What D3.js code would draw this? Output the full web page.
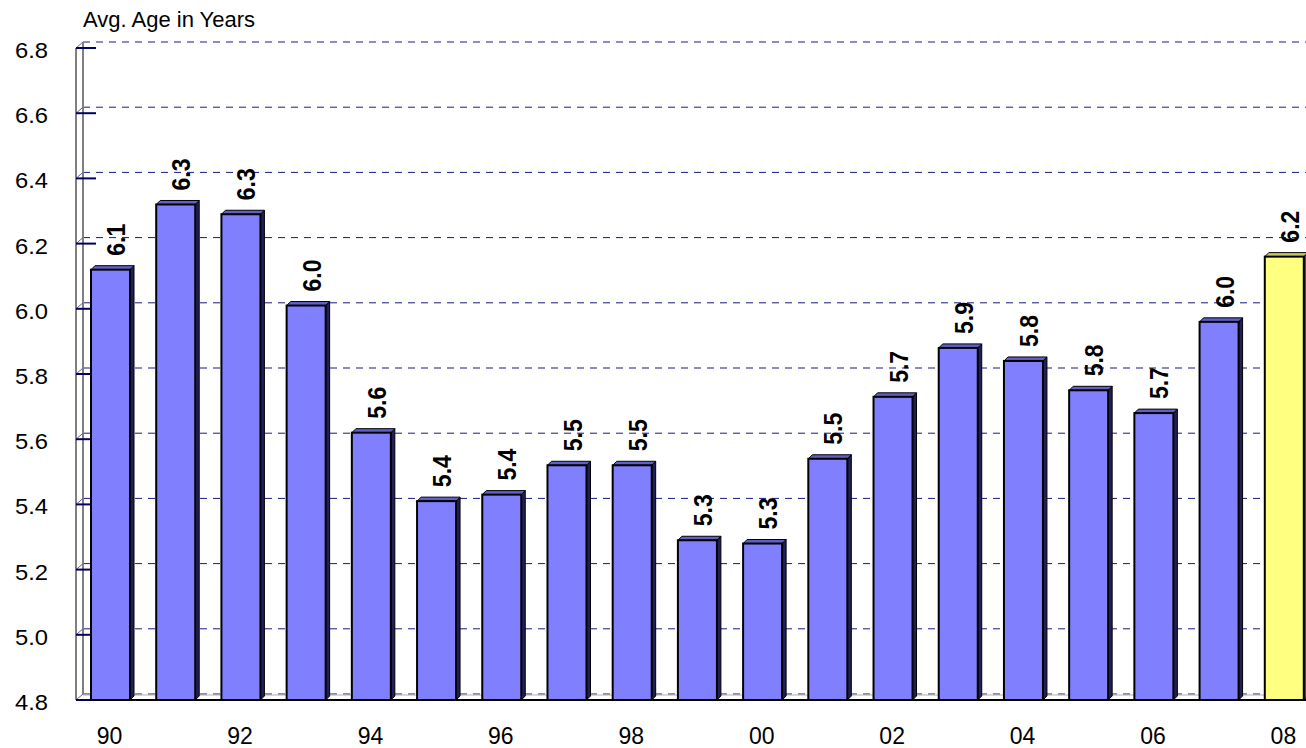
<!DOCTYPE html>
<html>
<head>
<meta charset="utf-8">
<script src="https://cdn.jsdelivr.net/npm/d3@7"></script>
<style>
  body { margin: 0; background: #fff; }
  text { font-family: "Liberation Sans", Arial, sans-serif; }
</style>
</head>
<body>
<div id="chart"></div>
<script>
// data
var years = [1990, 1991, 1992, 1993, 1994, 1995, 1996, 1997, 1998, 1999,
             2000, 2001, 2002, 2003, 2004, 2005, 2006, 2007, 2008];
var avgAge = [6.12, 6.32, 6.29, 6.01, 5.62, 5.41, 5.43, 5.52, 5.52, 5.29,
              5.28, 5.54, 5.73, 5.88, 5.84, 5.75, 5.68, 5.96, 6.16];
var yTicks = [4.8, 5.0, 5.2, 5.4, 5.6, 5.8, 6.0, 6.2, 6.4, 6.6, 6.8];
var xTickYears = [1990, 1992, 1994, 1996, 1998, 2000, 2002, 2004, 2006, 2008];
var highlightYear = 2008;

var W = 1306, H = 748;
var depthX = 7, depthY = 6;   // wall / floor depth offset
var barDepth = 4;             // bar side and top offset

var svg = d3.select('#chart').append('svg')
    .attr('width', W)
    .attr('height', H);

var y = d3.scaleLinear().domain([4.8, 6.8]).range([700, 48]);
var x = d3.scaleBand().domain(years).range([78, 1317]).padding(0);

// title on top of the value axis
svg.append('text')
    .attr('transform', 'translate(83,27)')
    .style('font-size', '22px')
    .text('Avg. Age in Years');

// back wall gridlines (dashed), shifted up for the depth
svg.selectAll('.grid').data(yTicks).enter().append('line')
    .attr('class', 'grid')
    .attr('x1', 76 + depthX).attr('x2', W)
    .attr('y1', function(d) { return y(d) - depthY; })
    .attr('y2', function(d) { return y(d) - depthY; })
    .attr('stroke', '#000070')
    .attr('stroke-opacity', 0.9)
    .attr('stroke-dasharray', '7,6');

// floor
svg.append('line')
    .attr('x1', 76 + depthX).attr('x2', W)
    .attr('y1', y(4.8) - depthY + 1).attr('y2', y(4.8) - depthY + 1)
    .attr('stroke', '#b0b0b0');
svg.append('line')
    .attr('x1', 76).attr('x2', W)
    .attr('y1', y(4.8)).attr('y2', y(4.8))
    .attr('stroke', '#000').attr('stroke-width', 2);

// left wall: front edge black, back edge grey
svg.append('line')
    .attr('x1', 76 + depthX).attr('x2', 76 + depthX)
    .attr('y1', y(6.8) - depthY).attr('y2', y(4.8) - depthY)
    .attr('stroke', '#808080').attr('stroke-width', 2);
svg.append('line')
    .attr('x1', 76).attr('x2', 76)
    .attr('y1', y(6.8)).attr('y2', y(4.8))
    .attr('stroke', '#000').attr('stroke-width', 1);

// small diagonals on the wall at each tick
svg.selectAll('.diag').data(yTicks).enter().append('line')
    .attr('class', 'diag')
    .attr('x1', 76).attr('x2', 76 + depthX)
    .attr('y1', function(d) { return y(d); })
    .attr('y2', function(d) { return y(d) - depthY; })
    .attr('stroke', '#6060a0').attr('stroke-width', 1);

// tick marks
svg.selectAll('.tick').data(yTicks).enter().append('line')
    .attr('class', 'tick')
    .attr('x1', 76).attr('x2', 96)
    .attr('y1', function(d) { return y(d); })
    .attr('y2', function(d) { return y(d); })
    .attr('stroke', '#000060').attr('stroke-width', 2);

// tick labels
svg.selectAll('.ylab').data(yTicks).enter().append('text')
    .attr('class', 'ylab')
    .attr('transform', function(d) { return 'translate(48,' + (y(d) + 10) + ') scale(1.08,1)'; })
    .attr('text-anchor', 'end')
    .style('font-size', '22px')
    .text(d3.format('.1f'));

svg.selectAll('.xlab').data(xTickYears).enter().append('text')
    .attr('class', 'xlab')
    .attr('transform', function(d) { return 'translate(' + (x(d) + x.bandwidth() / 2 - 1) + ',744)'; })
    .attr('text-anchor', 'middle')
    .style('font-size', '23px')
    .text(function(d) { return String(d).slice(2); });

// bars
var barOff = 13, barW = 39;
var data = years.map(function(yr, i) { return { year: yr, value: avgAge[i] }; });

var bars = svg.selectAll('.bar').data(data).enter().append('g')
    .attr('class', 'bar');

function colors(d) {
  if (d.year === highlightYear) return { front: '#ffff80', top: '#c8c860', side: '#505018' };
  return { front: '#8080ff', top: '#6060c8', side: '#202058' };
}

// side face
bars.append('path')
    .attr('d', function(d) {
      var x1 = x(d.year) + barOff + barW, yt = y(d.value), yb = y(4.8);
      return 'M' + x1 + ',' + yt + 'L' + (x1 + barDepth) + ',' + (yt - barDepth) +
             'L' + (x1 + barDepth) + ',' + (yb - barDepth) + 'L' + x1 + ',' + yb + 'Z';
    })
    .attr('fill', function(d) { return colors(d).side; })
    .attr('stroke', '#000').attr('stroke-width', 1);

// top face
bars.append('path')
    .attr('d', function(d) {
      var x0 = x(d.year) + barOff, yt = y(d.value);
      return 'M' + x0 + ',' + yt + 'L' + (x0 + barDepth) + ',' + (yt - barDepth) +
             'L' + (x0 + barW + barDepth) + ',' + (yt - barDepth) + 'L' + (x0 + barW) + ',' + yt + 'Z';
    })
    .attr('fill', function(d) { return colors(d).top; })
    .attr('stroke', '#000').attr('stroke-width', 1);

// front face
bars.append('rect')
    .attr('x', function(d) { return x(d.year) + barOff; })
    .attr('y', function(d) { return y(d.value); })
    .attr('width', barW)
    .attr('height', function(d) { return y(4.8) - y(d.value); })
    .attr('fill', function(d) { return colors(d).front; })
    .attr('stroke', '#000').attr('stroke-width', 2);

// value labels, rotated
bars.append('text')
    .attr('transform', function(d) {
      var cx = x(d.year) + barOff + barW / 2 + 5.5;
      return 'translate(' + cx + ',' + (y(d.value) - 14) + ') scale(1.15,1) rotate(-90)';
    })
    .attr('dominant-baseline', 'central')
    .style('font-size', '23px')
    .style('font-weight', 'bold')
    .text(function(d) { return d3.format('.1f')(d.value); });
</script>
</body>
</html>
